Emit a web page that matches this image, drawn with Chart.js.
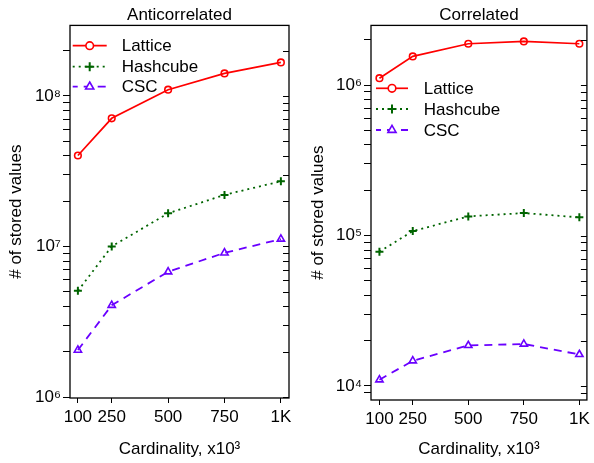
<!DOCTYPE html>
<html><head><meta charset="utf-8">
<script src="https://cdn.jsdelivr.net/npm/chart.js@4"></script>
<style>
html,body{margin:0;padding:0;background:#fff;}
#wrap{position:relative;width:594px;height:463px;background:#fff;}
#c1{position:absolute;left:0;top:0;}
#c2{position:absolute;left:297px;top:0;}
</style></head><body>
<div id="wrap"><canvas id="c1" width="297" height="463"></canvas><canvas id="c2" width="297" height="463"></canvas></div>
<script>
// ---- data ----
const cardinality = [100, 250, 500, 750, 1000];
const xTickLabels = ['100', '250', '500', '750', '1K'];
const seriesNames = ['Lattice', 'Hashcube', 'CSC'];
const panelTitles = ['Anticorrelated', 'Correlated'];
const antiLattice  = [4.02e7, 7.1e7, 1.1e8, 1.41e8, 1.67e8];
const antiHashcube = [5.07e6, 1.0e7, 1.66e7, 2.2e7, 2.71e7];
const antiCSC      = [2.05e6, 4.07e6, 6.79e6, 9.07e6, 1.12e7];
const corrLattice  = [1.11e6, 1.55e6, 1.88e6, 1.95e6, 1.88e6];
const corrHashcube = [7.8e4, 1.07e5, 1.34e5, 1.41e5, 1.32e5];
const corrCSC      = [1.1e4, 1.47e4, 1.86e4, 1.9e4, 1.62e4];

const FONT = '"Liberation Sans", Arial, Helvetica, sans-serif';
const SUP = {'0':'⁰','1':'¹','2':'²','3':'³','4':'⁴','5':'⁵','6':'⁶','7':'⁷','8':'⁸','9':'⁹'};
const COLORS = ['#ff0000', '#006400', '#6a00ff'];
const STYLES = [
  {dash: [], width: 1.7, point: 'circle', radius: 3.3, pbw: 1.6},
  {dash: [2, 4], width: 1.8, point: 'cross', radius: 4, pbw: 2},
  {dash: [8, 6], width: 1.8, point: 'triangle', radius: 4.2, pbw: 1.6}
];

function isDecade(v) { const e = Math.log10(v); return Math.abs(e - Math.round(e)) < 1e-9; }
function decadeLabel(v) { const e = Math.round(Math.log10(v)); return '10' + String(e).split('').map(c => SUP[c]).join(''); }

function logTicks(min, max) {
  const t = [];
  for (let e = Math.floor(Math.log10(min)); e <= Math.ceil(Math.log10(max)); e++) {
    for (let m = 1; m <= 9; m++) {
      const v = m * Math.pow(10, e);
      if (v >= min && v <= max) t.push({value: v});
    }
  }
  return t;
}

const boxPlugin = {
  id: 'boxPlugin',
  afterDraw(chart, args, opts) {
    const {ctx, chartArea: a} = chart;
    const ys = chart.scales.y;
    ctx.save();
    ctx.strokeStyle = '#000';
    ctx.lineWidth = 1;
    ys.ticks.forEach(t => {
      const py = Math.round(ys.getPixelForValue(t.value)) + 0.5;
      ctx.beginPath(); ctx.moveTo(a.right - 6, py); ctx.lineTo(a.right, py); ctx.stroke();
    });
    ctx.lineWidth = 1.3;
    ctx.strokeRect(a.left, a.top, a.right - a.left, a.bottom - a.top);
    const L = opts.legend;
    ctx.font = '17px ' + FONT;
    ctx.textBaseline = 'middle';
    ctx.textAlign = 'left';
    seriesNames.forEach((name, i) => {
      const y = L.rows[i];
      const st = STYLES[i];
      ctx.strokeStyle = COLORS[i];
      ctx.fillStyle = COLORS[i];
      ctx.lineWidth = st.width;
      ctx.setLineDash(st.dash);
      ctx.lineDashOffset = i === 2 ? 3 : 0;
      ctx.beginPath(); ctx.moveTo(L.x0, y); ctx.lineTo(L.x1, y); ctx.stroke();
      ctx.setLineDash([]);
      if (i !== 1) ctx.fillStyle = '#fff';
      ctx.lineWidth = st.pbw;
      Chart.helpers.drawPoint(ctx, {pointStyle: st.point, radius: st.radius + 0.5, borderWidth: st.pbw, rotation: 0}, (L.x0 + L.x1) / 2, y);
      ctx.fillStyle = '#000';
      ctx.fillText(name, L.tx, y + 1);
    });
    ctx.restore();
  }
};

function makeChart(id, title, data, yMin, yMax, xMin, xMax, yWidth, xHeight, padRight, yTitlePad, legend) {
  const datasets = data.map((vals, i) => ({
    label: seriesNames[i],
    data: cardinality.map((c, k) => ({x: c, y: vals[k]})),
    borderColor: COLORS[i],
    backgroundColor: 'rgba(255,255,255,0)',
    borderWidth: STYLES[i].width,
    borderDash: STYLES[i].dash,
    pointStyle: STYLES[i].point,
    pointRadius: STYLES[i].radius,
    pointBorderWidth: STYLES[i].pbw,
    pointBorderColor: COLORS[i],
    pointBackgroundColor: 'rgba(255,255,255,0)',
    tension: 0,
    fill: false
  }));
  return new Chart(document.getElementById(id), {
    type: 'line',
    data: {datasets},
    plugins: [boxPlugin],
    options: {
      responsive: false,
      animation: false,
      events: [],
      layout: {padding: {left: 0, right: padRight, top: 0, bottom: 0}},
      plugins: {
        legend: {display: false},
        tooltip: {enabled: false},
        title: {display: true, text: title, fullSize: false, color: '#000',
                font: {family: FONT, size: 17, weight: 'normal'}, padding: {top: 5, bottom: 0}},
        boxPlugin: {legend}
      },
      scales: {
        x: {
          type: 'linear', min: xMin, max: xMax,
          afterBuildTicks: s => { s.ticks = cardinality.map(v => ({value: v})); },
          afterFit: s => { s.height = xHeight; },
          border: {display: false},
          grid: {drawOnChartArea: false, drawTicks: true, tickLength: 5, color: '#000', lineWidth: 1},
          ticks: {color: '#000', font: {family: FONT, size: 17}, padding: 4, maxRotation: 0, autoSkip: false,
                  callback: v => { const k = cardinality.indexOf(v); return k >= 0 ? xTickLabels[k] : ''; }},
          title: {display: true, text: 'Cardinality, x10³', color: '#000', font: {family: FONT, size: 17}, padding: {top: 0, bottom: 3}}
        },
        y: {
          type: 'logarithmic', min: yMin, max: yMax,
          afterBuildTicks: s => { s.ticks = logTicks(yMin, yMax); },
          afterFit: s => { s.width = yWidth; },
          border: {display: false},
          grid: {drawOnChartArea: false, drawTicks: true, tickLength: 7, color: '#000', lineWidth: 1},
          ticks: {color: '#000', font: {family: FONT, size: 17}, padding: 2, autoSkip: false,
                  callback: v => isDecade(v) ? decadeLabel(v) : ''},
          title: {display: true, text: '# of stored values', color: '#000', font: {family: FONT, size: 17}, padding: {top: yTitlePad, bottom: 0}}
        }
      }
    }
  });
}

makeChart('c1', panelTitles[0], [antiLattice, antiHashcube, antiCSC], 0.985e6, 2.94e8, 65, 1036, 70, 65, 8, 6,
  {x0: 72.7, x1: 106.7, tx: 121.7, rows: [45.7, 66.7, 86.7]});
makeChart('c2', panelTitles[1], [corrLattice, corrHashcube, corrCSC], 8.07e3, 2.49e6, 62, 1034, 74, 63, 4, 11,
  {x0: 79, x1: 111, tx: 126.7, rows: [88.3, 109, 130]});
</script>
</body></html>
